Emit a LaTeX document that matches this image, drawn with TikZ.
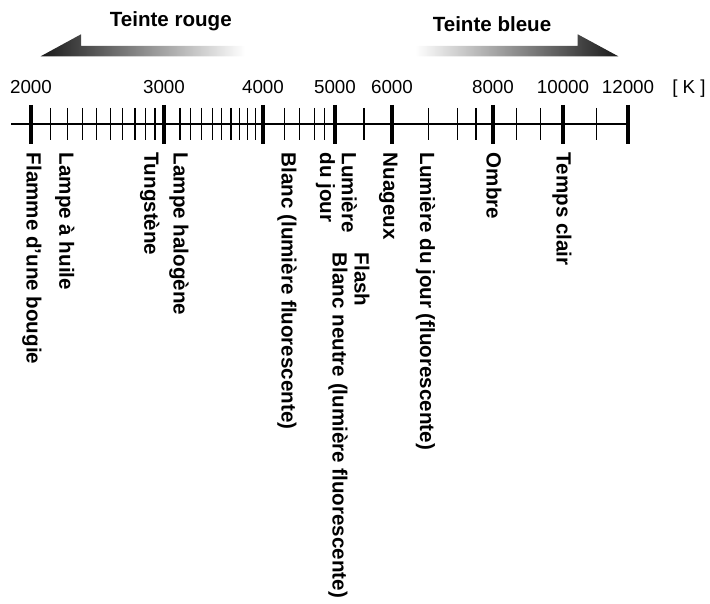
\documentclass[tikz,border=0pt]{standalone}
\usepackage{fontspec}
\setmainfont{Liberation Sans}
\usepackage{xcolor}

\begin{document}
\begin{tikzpicture}[
    majortick/.style={line width=2.3pt},
    minortick/.style={line width=0.75pt},
    templbl/.style={font=\fontsize{10.7}{12}\selectfont, anchor=base, inner sep=0pt},
    sourcelbl/.style={font=\fontsize{11.7}{12.5}\selectfont\bfseries, rotate=-90, anchor=base west, inner sep=0pt, align=left},
    hintlbl/.style={font=\fontsize{11.7}{12.5}\selectfont\bfseries, anchor=base, inner sep=0pt}
  ]
  \useasboundingbox (0,0) rectangle (14.2,12.06);

  % tint arrows
  \shade[left color=black!90, right color=white]
    (0.814,10.934) -- (1.62,11.374) -- (1.62,11.14) -- (4.90,11.14) -- (4.90,10.934) -- cycle;
  \node[hintlbl] (rouge) at (3.416,11.534) {Teinte rouge};

  \shade[left color=white, right color=black!90]
    (8.30,10.934) -- (8.30,11.14) -- (11.554,11.14) -- (11.554,11.374) -- (12.366,10.934) -- cycle;
  \node[hintlbl] (bleue) at (9.84,11.426) {Teinte bleue};

  % scale
  \draw[line width=1.4pt] (0.22,9.58) -- (12.56,9.58);
  \foreach \x in {1.014,1.354,1.654,1.934,2.214,2.454,2.70,2.914,3.10,
                  3.60,3.814,4.034,4.246,4.434,4.62,4.786,4.946,5.114,
                  5.686,5.986,6.294,6.494,7.28,8.566,9.15,9.52,10.334,10.806,11.93}
    \draw[minortick] (\x,9.90) -- (\x,9.26);
  \foreach \x/\t/\n in {0.62/2000/t2, 3.28/3000/t3, 5.26/4000/t4, 6.70/5000/t5,
                        7.84/6000/t6, 9.86/8000/t8, 11.26/10000/t10, 12.56/12000/t12}
  {
    \draw[majortick] (\x,9.96) -- (\x,9.18);
    \node[templbl] (\n) at (\x,10.18) {\t};
  }
  \node[templbl] (unit) at (13.78,10.18) {[ K ]};

  % light sources
  \node[sourcelbl] (bougie) at (0.534,9.01) {Flamme d'une bougie};
  \node[sourcelbl] (huile) at (1.186,9.01) {Lampe à huile};
  \node[sourcelbl] (tungstene) at (2.886,9.01) {Tungstène};
  \node[sourcelbl] (halogene) at (3.47,9.01) {Lampe halogène};
  \node[sourcelbl] (blanc) at (5.634,9.01) {Blanc (lumière fluorescente)};
  \node[sourcelbl] (jour) at (6.40,9.01) {Lumière\\du jour};
  \node[sourcelbl] (flash) at (6.654,7.01) {Flash\\Blanc neutre (lumière fluorescente)};
  \node[sourcelbl] (nuageux) at (7.666,9.01) {Nuageux};
  \node[sourcelbl] (jourfluo) at (8.40,9.01) {Lumière du jour (fluorescente)};
  \node[sourcelbl] (ombre) at (9.734,9.01) {Ombre};
  \node[sourcelbl] (clair) at (11.134,9.01) {Temps clair};
\end{tikzpicture}
\end{document}
